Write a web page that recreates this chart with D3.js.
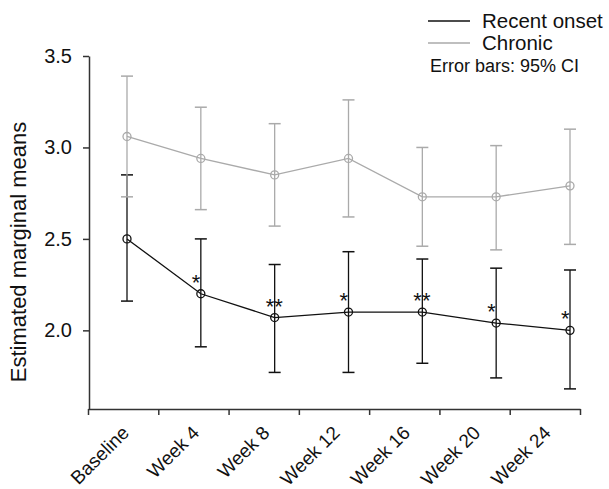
<!DOCTYPE html>
<html>
<head>
<meta charset="utf-8">
<script src="https://cdn.jsdelivr.net/npm/d3@7"></script>
<style>
  body { margin: 0; background: #fff; }
  text { font-family: Arial, "Liberation Sans", sans-serif; }
</style>
</head>
<body>
<div id="chart"></div>
<script>
// categories and values
var weeks = ["Baseline", "Week 4", "Week 8", "Week 12", "Week 16", "Week 20", "Week 24"];

var recentMean  = [2.50, 2.20, 2.07, 2.10, 2.10, 2.04, 2.00];
var recentLower = [2.16, 1.91, 1.77, 1.77, 1.82, 1.74, 1.68];
var recentUpper = [2.85, 2.50, 2.36, 2.43, 2.39, 2.34, 2.33];

var chronicMean  = [3.06, 2.94, 2.85, 2.94, 2.73, 2.73, 2.79];
var chronicLower = [2.73, 2.66, 2.57, 2.62, 2.46, 2.44, 2.47];
var chronicUpper = [3.39, 3.22, 3.13, 3.26, 3.00, 3.01, 3.10];

var stars = ["", "*", "**", "*", "**", "*", "*"];
var yTicks = [2.0, 2.5, 3.0, 3.5];

var width = 609, height = 489;

var svg = d3.select("#chart")
  .append("svg")
    .attr("width", width)
    .attr("height", height);

// axis scale (ticks on category boundaries)
var xAxisScale = d3.scaleLinear()
  .domain([0, weeks.length])
  .range([88, 580]);

// markers sit on their own spacing in the original
var x = d3.scalePoint()
  .domain(weeks)
  .range([127, 570]);

var y = d3.scaleLinear()
  .domain([1.57, 3.5])
  .range([409, 56]);

// x axis
var gx = svg.append("g")
  .attr("transform", "translate(0,409)")
  .call(d3.axisBottom(xAxisScale)
    .tickValues(d3.range(weeks.length + 1))
    .tickFormat("")
    .tickSize(6)
    .tickSizeOuter(0));

gx.selectAll("text").remove();

svg.append("g")
  .selectAll("text")
  .data(weeks)
  .enter()
  .append("text")
    .attr("transform", function (d, i) {
      return "translate(" + (xAxisScale(i + 0.5) + 7) + ",434) rotate(-45)";
    })
    .attr("text-anchor", "end")
    .style("font-size", "19px")
    .style("fill", "#111")
    .text(function (d) { return d; });

// y axis
var gy = svg.append("g")
  .attr("transform", "translate(89,0)")
  .call(d3.axisLeft(y)
    .tickValues(yTicks)
    .tickFormat(d3.format(".1f"))
    .tickSize(6)
    .tickPadding(11)
    .tickSizeOuter(0));

gy.selectAll("text")
  .style("font-size", "20px")
  .style("font-family", "Arial, 'Liberation Sans', sans-serif")
  .style("fill", "#111");

svg.selectAll(".domain, .tick line")
  .attr("stroke", "#333")
  .attr("stroke-width", 1.5);

// y label
svg.append("text")
  .attr("transform", "translate(26,252) rotate(-90)")
  .attr("text-anchor", "middle")
  .style("font-size", "22px")
  .style("fill", "#111")
  .text("Estimated marginal means");

function drawSeries(mean, lower, upper, color) {
  var g = svg.append("g");
  var cap = 6;

  g.selectAll(".bar")
    .data(weeks)
    .enter()
    .append("line")
      .attr("x1", function (d) { return x(d); })
      .attr("x2", function (d) { return x(d); })
      .attr("y1", function (d, i) { return y(lower[i]); })
      .attr("y2", function (d, i) { return y(upper[i]); })
      .attr("stroke", color)
      .attr("stroke-width", 1.3);

  [lower, upper].forEach(function (arr) {
    g.selectAll(null)
      .data(weeks)
      .enter()
      .append("line")
        .attr("x1", function (d) { return x(d) - cap; })
        .attr("x2", function (d) { return x(d) + cap; })
        .attr("y1", function (d, i) { return y(arr[i]); })
        .attr("y2", function (d, i) { return y(arr[i]); })
        .attr("stroke", color)
        .attr("stroke-width", 1.5);
  });

  var line = d3.line()
    .x(function (d) { return x(d); })
    .y(function (d, i) { return y(mean[i]); });

  g.append("path")
    .datum(weeks)
    .attr("d", line)
    .attr("fill", "none")
    .attr("stroke", color)
    .attr("stroke-width", 1.3);

  g.selectAll("circle")
    .data(weeks)
    .enter()
    .append("circle")
      .attr("cx", function (d) { return x(d); })
      .attr("cy", function (d, i) { return y(mean[i]); })
      .attr("r", 4)
      .attr("fill", "none")
      .attr("stroke", color)
      .attr("stroke-width", 1.3);
}

drawSeries(recentMean, recentLower, recentUpper, "#111");
drawSeries(chronicMean, chronicLower, chronicUpper, "#aaa");

// significance marks
svg.append("g")
  .selectAll("text")
  .data(weeks)
  .enter()
  .append("text")
    .attr("x", function (d) { return x(d) - 9; })
    .attr("y", function (d, i) { return y(recentMean[i]) - 4; })
    .style("font-size", "22px")
    .style("fill", "#111")
    .text(function (d, i) { return stars[i]; });

// legend
var legend = [
  { name: "Recent onset", color: "#111", y: 21 },
  { name: "Chronic", color: "#aaa", y: 43 }
];

legend.forEach(function (l) {
  svg.append("line")
    .attr("x1", 428).attr("x2", 470)
    .attr("y1", l.y).attr("y2", l.y)
    .attr("stroke", l.color)
    .attr("stroke-width", 1.5);
  svg.append("text")
    .attr("x", 482)
    .attr("y", l.y + 7)
    .style("font-size", "20.5px")
    .style("fill", "#111")
    .text(l.name);
});

svg.append("text")
  .attr("x", 430)
  .attr("y", 72)
  .style("font-size", "18px")
  .style("fill", "#111")
  .text("Error bars: 95% CI");
</script>
</body>
</html>
